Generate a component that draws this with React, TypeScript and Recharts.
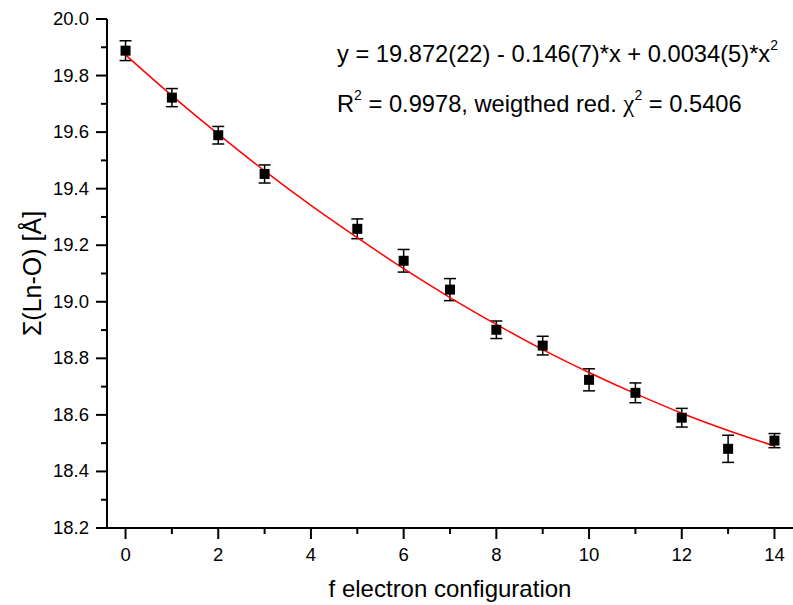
import { ComposedChart, Scatter, Line, XAxis, YAxis, ErrorBar } from "recharts"

// measured points (f electron count vs. sum of Ln-O distances)
const fCount = [0, 1, 2, 3, 5, 6, 7, 8, 9, 10, 11, 12, 13, 14]
const sumLnO = [19.888, 19.722, 19.589, 19.452, 19.258, 19.145, 19.043, 18.901, 18.845, 18.724, 18.678, 18.590, 18.480, 18.509]
const sumErr = [0.035, 0.032, 0.031, 0.032, 0.035, 0.040, 0.039, 0.031, 0.033, 0.039, 0.035, 0.033, 0.048, 0.025]

// fitted curve
const fitX = [0, 1, 2, 3, 4, 5, 6, 7, 8, 9, 10, 11, 12, 13, 14]
const fitY = [19.873, 19.729, 19.593, 19.463, 19.341, 19.227, 19.117, 19.015, 18.920, 18.831, 18.750, 18.675, 18.606, 18.545, 18.490]

const xTicks = [0, 1, 2, 3, 4, 5, 6, 7, 8, 9, 10, 11, 12, 13, 14]
const yTicks = [18.2, 18.3, 18.4, 18.5, 18.6, 18.7, 18.8, 18.9, 19.0, 19.1, 19.2, 19.3, 19.4, 19.5, 19.6, 19.7, 19.8, 19.9, 20.0]

const points = fCount.map((x, i) => ({ x, y: sumLnO[i], err: sumErr[i] }))
const fit = fitX.map((x, i) => ({ x, y: fitY[i] }))

const FONT = "'Liberation Sans', Arial, sans-serif"

function XTick(props: any) {
  const { x, y, payload } = props
  const major = payload.value % 2 === 0
  return (
    <g>
      <line x1={x} y1={y} x2={x} y2={y + (major ? 11 : 6)} stroke="#000" strokeWidth={2} />
      {major && (
        <text x={x} y={y + 33} textAnchor="middle" fontSize={18.5} fontFamily={FONT} fill="#000">
          {payload.value}
        </text>
      )}
    </g>
  )
}

function YTick(props: any) {
  const { x, y, payload } = props
  const major = Math.round(payload.value * 10) % 2 === 0
  return (
    <g>
      <line x1={x} y1={y} x2={x - (major ? 11 : 6)} y2={y} stroke="#000" strokeWidth={2} />
      {major && (
        <text x={x - 18} y={y + 6} textAnchor="end" fontSize={18.5} fontFamily={FONT} fill="#000">
          {payload.value.toFixed(1)}
        </text>
      )}
    </g>
  )
}

const Square = (props: any) => {
  const { cx, cy } = props
  return <rect x={cx - 5} y={cy - 5} width={10} height={10} fill="#000" />
}

const sup = { fontSize: 14, position: "relative" as const, top: -12 }

export default function App() {
  return (
    <div style={{ position: "absolute", left: 0, top: 0, width: 793, height: 605, background: "#fff" }}>
      <ComposedChart width={793} height={605} margin={{ top: 19, right: 0, bottom: 0, left: 0 }}>
        <XAxis
          type="number"
          dataKey="x"
          domain={[-0.4, 14.4]}
          ticks={xTicks}
          interval={0}
          height={77}
          tickSize={0}
          tickMargin={0}
          tickLine={false}
          tick={<XTick />}
          axisLine={{ stroke: "#000", strokeWidth: 2 }}
          label={{
            value: "f electron configuration",
            position: "insideBottom",
            offset: 8,
            style: { fontSize: 24, fontFamily: FONT, fill: "#000" },
          }}
        />
        <YAxis
          type="number"
          domain={[18.2, 20.0]}
          ticks={yTicks}
          interval={0}
          width={107}
          tickSize={0}
          tickMargin={0}
          tickLine={false}
          tick={<YTick />}
          axisLine={{ stroke: "#000", strokeWidth: 2 }}
          label={{
            content: (p: any) => {
              const vb = p.viewBox
              const cx = vb.x + 32
              const cy = vb.y + vb.height / 2
              return (
                <text
                  x={cx}
                  y={cy}
                  transform={`rotate(-90 ${cx} ${cy})`}
                  textAnchor="middle"
                  dominantBaseline="central"
                  fontSize={25}
                  fontFamily={FONT}
                  fill="#000"
                >
                  Σ(Ln-O) [Å]
                </text>
              )
            },
          }}
        />
        <Scatter data={points} dataKey="y" shape={<Square />} isAnimationActive={false}>
          <ErrorBar dataKey="err" direction="y" width={6} stroke="#000" strokeWidth={1.5} />
        </Scatter>
        <Line
          data={fit}
          dataKey="y"
          type="monotone"
          stroke="#ff0000"
          strokeWidth={1.5}
          dot={false}
          activeDot={false}
          isAnimationActive={false}
        />
      </ComposedChart>
      <div style={{ position: "absolute", left: 337, top: 43, fontSize: 23.7, lineHeight: "23px", fontFamily: FONT, whiteSpace: "nowrap" }}>
        y = 19.872(22) - 0.146(7)*x + 0.0034(5)*x<span style={sup}>2</span>
      </div>
      <div style={{ position: "absolute", left: 337, top: 92, fontSize: 23.7, lineHeight: "23px", fontFamily: FONT, whiteSpace: "nowrap" }}>
        R<span style={sup}>2</span> = 0.9978, weigthed red. <span style={{ fontFamily: "'Liberation Serif', serif", fontSize: 25 }}>χ</span>
        <span style={sup}>2</span> = 0.5406
      </div>
    </div>
  )
}
